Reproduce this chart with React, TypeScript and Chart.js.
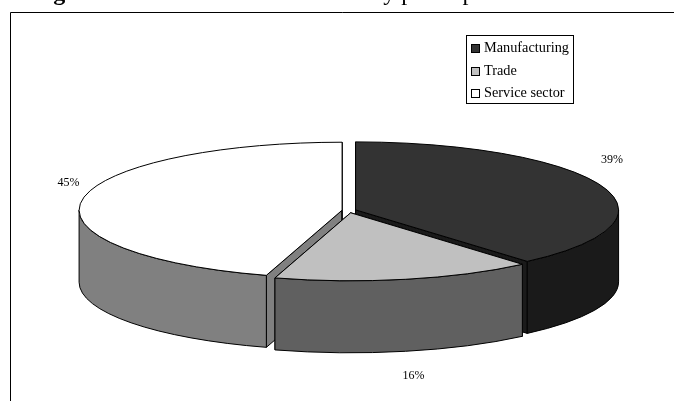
import React, { useEffect, useRef } from "react";
import { Chart, registerables, type Plugin } from "chart.js";

Chart.register(...registerables);

const sectors = ["Manufacturing", "Trade", "Service sector"];
const shares = [39, 16, 45];
const topColors = ["#333333", "#c0c0c0", "#ffffff"];
const wallColors = ["#1a1a1a", "#606060", "#808080"];
const explode = [7, 9, 7];

const FONT = '"Liberation Serif", "Times New Roman", serif';
const TILT = 68 / 263;
const DEPTH = 72;
const WIDTH = 674;
const HEIGHT = 401;
// Slight angular drift of the near side of the disc, as a perspective view produces.
const NEAR_DRIFT = 0.0227;

// Percentage label anchors, in the same order as the sectors.
const labelSpots = [
  { x: 612, y: 160 },
  { x: 413.5, y: 376 },
  { x: 68.5, y: 183 },
];

// Later entries are painted over earlier ones; the front slice goes last.
const paintOrder = [0, 2, 1];

const viewAngle = (a: number) => a - (NEAR_DRIFT * (1 - Math.cos(a + Math.PI / 2))) / 2;

const drawPage: Plugin = {
  id: "drawPage",
  beforeDraw(chart) {
    const { ctx } = chart;
    ctx.save();
    ctx.fillStyle = "#ffffff";
    ctx.fillRect(0, 0, WIDTH, HEIGHT);
    ctx.strokeStyle = "#000000";
    ctx.lineWidth = 1;
    ctx.beginPath();
    ctx.moveTo(10.5, HEIGHT + 2);
    ctx.lineTo(10.5, 12.5);
    ctx.lineTo(WIDTH + 2, 12.5);
    ctx.stroke();

    // Caption sitting above the frame, running off the top of the page.
    ctx.fillStyle = "#000000";
    ctx.textBaseline = "alphabetic";
    ctx.textAlign = "left";
    ctx.font = `bold 24px ${FONT}`;
    ctx.fillText("Figure 1", 32, 0);
    ctx.font = `24px ${FONT}`;
    ctx.fillText("Business structure of survey participants", 124, 0);
    ctx.restore();
  },
};

const tiltedPie: Plugin = {
  id: "tiltedPie",
  // Replaces the flat arcs with an extruded, exploded disc built from the controller's angles.
  beforeDatasetDraw(chart) {
    const { ctx } = chart;
    const arcs = chart.getDatasetMeta(0).data as any[];
    const parts = arcs.map((arc, i) => {
      const mid = (arc.startAngle + arc.endAngle) / 2;
      const rx = arc.outerRadius;
      return {
        i,
        start: viewAngle(arc.startAngle),
        end: viewAngle(arc.endAngle),
        rx,
        ry: rx * TILT,
        cx: arc.x + Math.cos(mid) * explode[i],
        cy: arc.y + Math.sin(mid) * explode[i] * TILT,
      };
    });

    ctx.save();
    ctx.lineWidth = 1;
    ctx.lineJoin = "round";
    ctx.strokeStyle = "#000000";

    for (const index of paintOrder) {
      const p = parts[index];
      const rim = (a: number) => ({
        x: p.cx + p.rx * Math.cos(a),
        y: p.cy + p.ry * Math.sin(a),
      });

      // Cut faces that turn towards the viewer.
      for (const a of [p.start, p.end]) {
        const r = rim(a);
        ctx.beginPath();
        ctx.moveTo(p.cx, p.cy);
        ctx.lineTo(r.x, r.y);
        ctx.lineTo(r.x, r.y + DEPTH);
        ctx.lineTo(p.cx, p.cy + DEPTH);
        ctx.closePath();
        ctx.fillStyle = wallColors[p.i];
        ctx.fill();
        ctx.stroke();
      }

      // Outer wall: only the part of the rim facing the viewer (0 to PI in canvas angle).
      const spans = [
        [p.start, p.end],
        [p.start + 2 * Math.PI, p.end + 2 * Math.PI],
        [p.start - 2 * Math.PI, p.end - 2 * Math.PI],
      ];
      for (const [s, e] of spans) {
        const from = Math.max(s, 0);
        const to = Math.min(e, Math.PI);
        if (to <= from) continue;
        ctx.beginPath();
        ctx.ellipse(p.cx, p.cy, p.rx, p.ry, 0, from, to);
        ctx.ellipse(p.cx, p.cy + DEPTH, p.rx, p.ry, 0, to, from, true);
        ctx.closePath();
        ctx.fillStyle = wallColors[p.i];
        ctx.fill();
        ctx.stroke();
      }

      // Top face.
      ctx.beginPath();
      ctx.moveTo(p.cx, p.cy);
      ctx.ellipse(p.cx, p.cy, p.rx, p.ry, 0, p.start, p.end);
      ctx.closePath();
      ctx.fillStyle = topColors[p.i];
      ctx.fill();
      ctx.stroke();
    }
    ctx.restore();
    return false;
  },
  afterDraw(chart) {
    const { ctx } = chart;
    const values = chart.data.datasets[0].data as number[];
    ctx.save();
    ctx.fillStyle = "#000000";
    ctx.font = `12px ${FONT}`;
    ctx.textAlign = "center";
    ctx.textBaseline = "middle";
    values.forEach((v, i) => {
      ctx.fillText(`${v}%`, labelSpots[i].x, labelSpots[i].y);
    });

    // Legend box with a square swatch per sector.
    ctx.strokeStyle = "#000000";
    ctx.lineWidth = 1;
    ctx.fillStyle = "#ffffff";
    ctx.fillRect(466.5, 35.5, 107, 68);
    ctx.strokeRect(466.5, 35.5, 107, 68);
    ctx.textAlign = "left";
    ctx.font = `14.3px ${FONT}`;
    sectors.forEach((name, i) => {
      const y = 48 + i * 22.5;
      ctx.fillStyle = topColors[i];
      ctx.fillRect(471.5, Math.round(y - 4) + 0.5, 8, 8);
      ctx.strokeRect(471.5, Math.round(y - 4) + 0.5, 8, 8);
      ctx.fillStyle = "#000000";
      ctx.fillText(name, 484, y + 0.5);
    });
    ctx.restore();
  },
};

export default function App() {
  const ref = useRef<HTMLCanvasElement>(null);

  useEffect(() => {
    document.body.style.margin = "0";
    const chart = new Chart(ref.current!, {
      type: "pie",
      data: {
        labels: sectors,
        datasets: [{ data: shares, backgroundColor: topColors }],
      },
      options: {
        responsive: false,
        animation: false,
        radius: 263,
        layout: { padding: { left: 24, top: 20 } },
        plugins: {
          legend: { display: false },
          title: { display: false },
          tooltip: { enabled: false },
        },
      },
      plugins: [drawPage, tiltedPie],
    });
    return () => chart.destroy();
  }, []);

  return (
    <canvas
      ref={ref}
      width={WIDTH}
      height={HEIGHT}
      style={{ display: "block", width: WIDTH, height: HEIGHT }}
    />
  );
}
